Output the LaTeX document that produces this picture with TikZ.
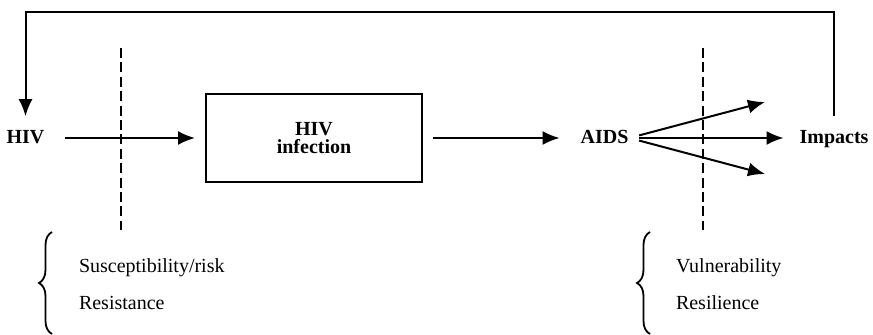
\documentclass[tikz,border=0pt]{standalone}
\usepackage{fontspec}
\setmainfont{Liberation Serif}
\usepackage{tikz}
\usetikzlibrary{arrows.meta, positioning, decorations.pathreplacing}
\usepackage{xcolor}

\begin{document}
\begin{tikzpicture}[x=0.5pt, y=-0.5pt, line width=1pt,
    arrow/.style={-{Latex[length=8.5pt, width=7pt]}},
    divider/.style={dash pattern=on 5pt off 2.2pt},
    curly/.style={decorate, decoration={brace, amplitude=6.5pt}, line width=0.9pt},
    stage/.style={font=\bfseries, inner sep=0pt, anchor=base},
    factor/.style={inner sep=0pt, anchor=base west}]
    \useasboundingbox (0,0) rectangle (873,335);

    \node[stage] (hiv) at (25.5,143.3) {HIV};
    \node[draw, minimum width=108pt, minimum height=44pt, align=center,
          font={\bfseries\fontsize{10pt}{9.3pt}\selectfont}] (infection) at (314,138) {HIV\\infection};
    \node[stage] (aids) at (604.5,143.3) {AIDS};
    \node[stage] (impacts) at (834,143.3) {Impacts};

    \coordinate (top) at (0,12);
    \coordinate (up) at (765,102);
    \coordinate (down) at (765,174);

    \draw[arrow, shorten <=10pt, shorten >=5pt] (hiv.east |- infection.west) -- (infection.west);
    \draw[arrow, shorten <=5pt, shorten >=10pt] (infection.east) -- (infection.east -| aids.west);
    \draw[arrow, shorten <=5pt] (aids.east |- infection.east) -- (up);
    \draw[arrow, shorten <=5pt, shorten >=7.5pt] (aids.east |- infection.east) -- (infection.east -| impacts.west);
    \draw[arrow, shorten <=5pt] (aids.east |- infection.east) -- (down);
    \draw[arrow, shorten <=6.5pt, shorten >=6.5pt] (impacts.north) -- (impacts.north |- top) -| (hiv.north);

    % dashed boundaries
    \draw[divider] (121,48) -- (121,230);
    \draw[divider] (703,48) -- (703,230);

    % factors
    \draw[curly] (52,334) -- (52,232);
    \draw[curly] (650,334) -- (650,232);
    \node[factor] (risk) at (78,272.7) {Susceptibility/risk};
    \node[factor] (resist) at (78,310) {Resistance};
    \node[factor] (vuln) at (675,272.7) {Vulnerability};
    \node[factor] (resil) at (675,310) {Resilience};
\end{tikzpicture}
\end{document}
